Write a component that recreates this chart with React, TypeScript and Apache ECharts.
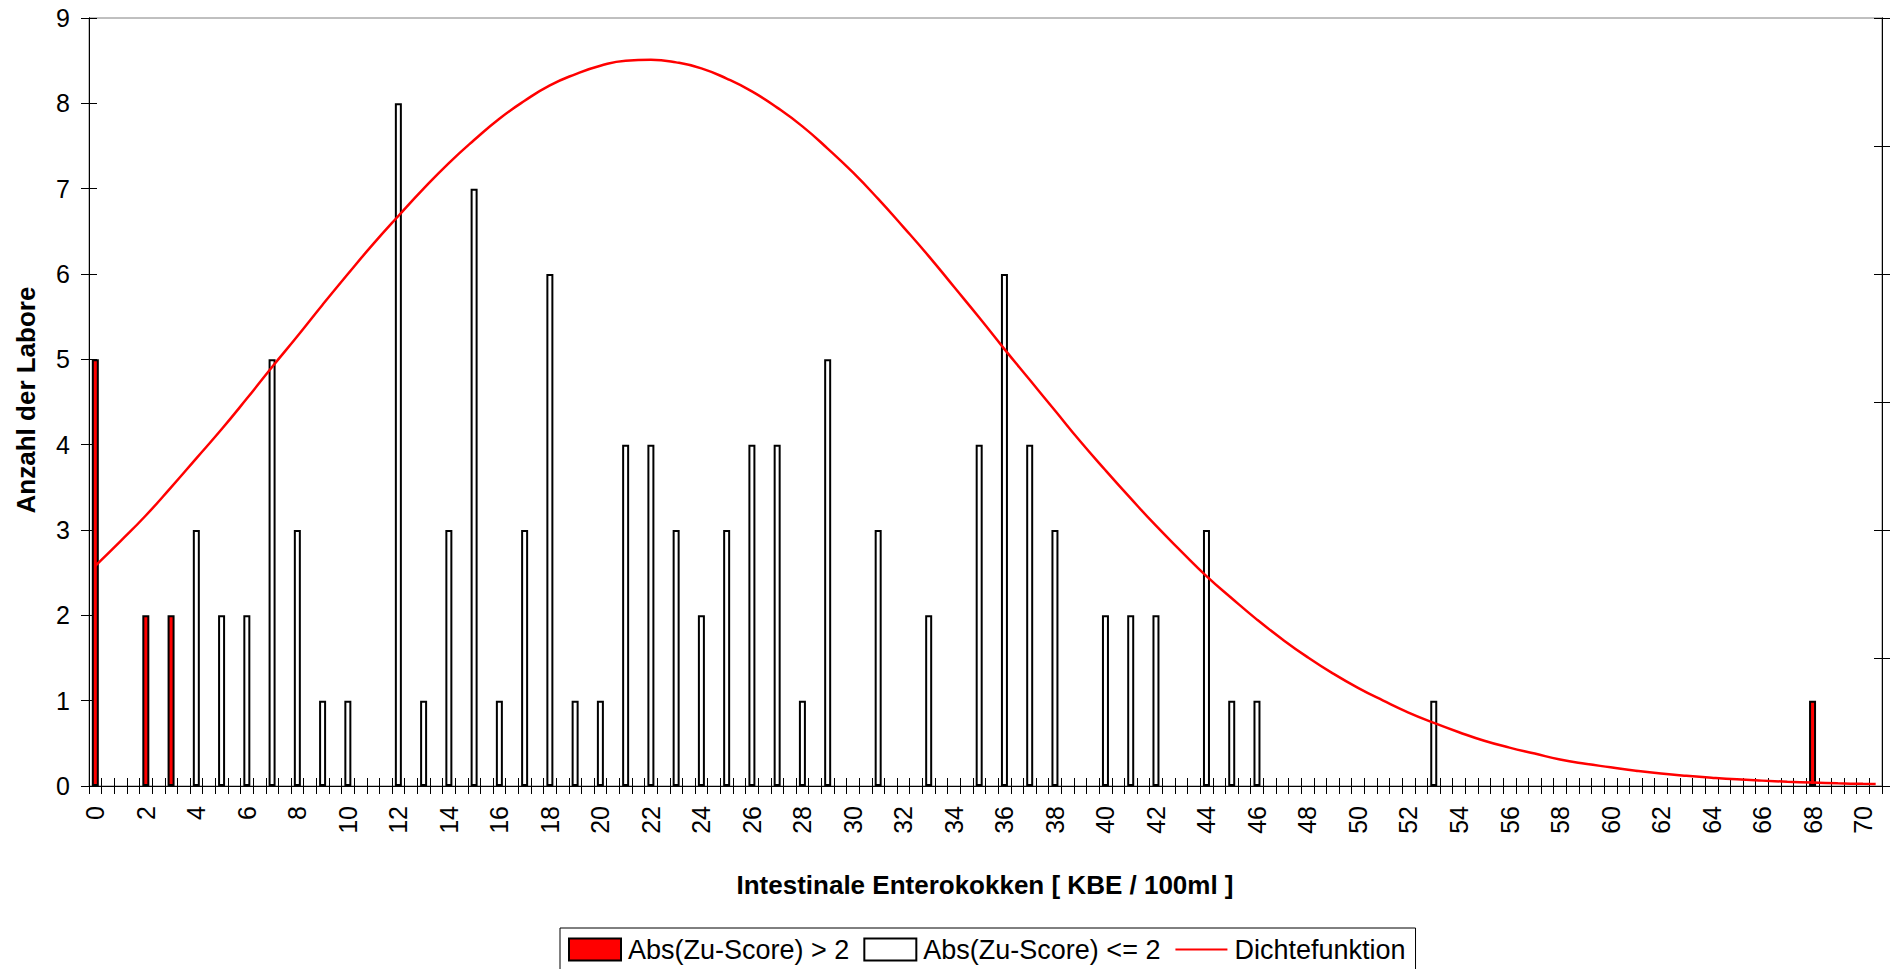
import React, { useEffect, useRef } from "react";
import * as echarts from "echarts";

// x axis categories: half-unit slots 0, 0.5, 1, ... 70.5 (labels every 2 units)
const xCategories: string[] = [];
for (let i = 0; i < 142; i++) xCategories.push(String(i / 2));

// Abs(Zu-Score) > 2
const redX = [0, 2, 3, 68];
const redCount = [5, 2, 2, 1];

// Abs(Zu-Score) <= 2
const whiteX = [4, 5, 6, 7, 8, 9, 10, 12, 13, 14, 15, 16, 17, 18, 19, 20, 21, 22, 23, 24, 25, 26, 27, 28, 29, 31, 33, 35, 36, 37, 38, 40, 41, 42, 44, 45, 46, 53];
const whiteCount = [3, 2, 2, 5, 3, 1, 1, 8, 1, 3, 7, 1, 3, 6, 1, 1, 4, 4, 3, 2, 3, 4, 4, 1, 5, 3, 2, 4, 6, 4, 3, 2, 2, 2, 3, 1, 1, 1];

// Dichtefunktion (read in left-axis units)
const densityX = [0, 1, 2, 3, 4, 5, 6, 7, 8, 9, 10, 11, 12, 13, 14, 15, 16, 17, 18, 19, 20, 21, 22, 23, 24, 25, 26, 27, 28, 29, 30, 31, 32, 33, 34, 35, 36, 37, 38, 39, 40, 41, 42, 43, 44, 45, 46, 47, 48, 49, 50, 51, 52, 53, 54, 55, 56, 57, 58, 59, 60, 61, 62, 63, 64, 65, 66, 67, 68, 69, 70, 70.5];
const densityY = [2.58, 2.87, 3.17, 3.5, 3.84, 4.18, 4.54, 4.91, 5.27, 5.64, 6.0, 6.35, 6.68, 7.0, 7.3, 7.57, 7.82, 8.03, 8.21, 8.34, 8.44, 8.5, 8.51, 8.48, 8.41, 8.29, 8.14, 7.95, 7.73, 7.47, 7.19, 6.88, 6.55, 6.21, 5.85, 5.49, 5.12, 4.76, 4.4, 4.04, 3.7, 3.37, 3.05, 2.75, 2.46, 2.2, 1.95, 1.72, 1.51, 1.32, 1.15, 1.0, 0.86, 0.74, 0.63, 0.53, 0.45, 0.38, 0.31, 0.26, 0.22, 0.18, 0.146, 0.119, 0.097, 0.078, 0.063, 0.05, 0.04, 0.031, 0.025, 0.022];

const yTicksLeft = { min: 0, max: 9, interval: 1 };
const yTicksRight = { min: 0, max: 6, interval: 1 };

const FONT = "'Liberation Sans', Arial, sans-serif";

export default function App() {
  const ref = useRef<HTMLDivElement>(null);
  useEffect(() => {
    if (!ref.current) return;
    const chart = echarts.init(ref.current, null, { renderer: "svg" });
    const axisLine = { show: true, lineStyle: { color: "#000", width: 1 } };
    const tick = (inside: boolean) => ({ show: true, inside, length: 8, lineStyle: { color: "#000", width: 1 } });
    const baseX = (inside: boolean, labels: boolean) => ({
      type: "category",
      data: xCategories,
      position: "bottom",
      boundaryGap: true,
      axisLine,
      axisTick: { ...tick(inside), interval: 0, alignWithLabel: false },
      axisLabel: labels
        ? { show: true, interval: 3, rotate: 90, fontSize: 25, color: "#000", fontFamily: FONT, margin: 20 }
        : { show: false },
      splitLine: { show: false },
    });
    const baseY = (pos: string, inside: boolean, labels: boolean, sc: any) => ({
      type: "value",
      position: pos,
      ...sc,
      axisLine,
      axisTick: tick(inside),
      axisLabel: labels ? { show: true, fontSize: 25, color: "#000", fontFamily: FONT, margin: 19 } : { show: false },
      splitLine: { show: false },
    });
    chart.setOption({
      animation: false,
      backgroundColor: "#fff",
      textStyle: { fontFamily: FONT },
      grid: { left: 89, right: 14, top: 18, bottom: 183, show: true, borderColor: "#808080", borderWidth: 1, containLabel: false },
      xAxis: [baseX(false, true), baseX(true, false)],
      yAxis: [
        baseY("left", false, true, yTicksLeft),
        baseY("left", true, false, yTicksLeft),
        baseY("right", false, false, yTicksRight),
        baseY("right", true, false, yTicksRight),
      ],
      legend: {
        left: 560,
        top: 928,
        orient: "horizontal",
        itemWidth: 52,
        itemHeight: 22,
        itemGap: 14,
        padding: [8, 10, 8, 8],
        borderColor: "#000",
        borderWidth: 1,
        backgroundColor: "#fff",
        textStyle: { fontSize: 27, color: "#000", fontFamily: FONT, padding: [0, 0, 0, 2] },
        data: [
          { name: "Abs(Zu-Score) > 2", icon: "rect" },
          { name: "Abs(Zu-Score) <= 2", icon: "rect" },
          { name: "Dichtefunktion", itemStyle: { opacity: 0 } },
        ],
      },
      graphic: [
        {
          type: "text",
          x: 985,
          y: 885,
          style: { text: "Intestinale Enterokokken [ KBE / 100ml ]", font: `bold 26px ${FONT}`, fill: "#000", textAlign: "center", textVerticalAlign: "middle" },
        },
        {
          type: "text",
          x: 26,
          y: 400,
          rotation: Math.PI / 2,
          style: { text: "Anzahl der Labore", font: `bold 26px ${FONT}`, fill: "#000", textAlign: "center", textVerticalAlign: "middle" },
        },
      ],
      series: [
        {
          name: "Abs(Zu-Score) > 2",
          type: "bar",
          xAxisIndex: 0,
          yAxisIndex: 0,
          barWidth: 7,
          barGap: "-100%",
          itemStyle: { color: "#ff0000", borderColor: "#000", borderWidth: 2 },
          data: redX.map((x, i) => [x * 2, redCount[i]]),
          z: 2,
        },
        {
          name: "Abs(Zu-Score) <= 2",
          type: "bar",
          xAxisIndex: 0,
          yAxisIndex: 0,
          barWidth: 7,
          barGap: "-100%",
          itemStyle: { color: "#ffffff", borderColor: "#000", borderWidth: 2 },
          data: whiteX.map((x, i) => [x * 2, whiteCount[i]]),
          z: 2,
        },
        {
          name: "Dichtefunktion",
          type: "line",
          xAxisIndex: 0,
          yAxisIndex: 0,
          smooth: true,
          symbol: "none",
          lineStyle: { color: "#ff0000", width: 2.5 },
          itemStyle: { color: "#ff0000" },
          data: densityX.map((x, i) => [x * 2, densityY[i]]),
          z: 5,
        },
      ],
    });
    return () => chart.dispose();
  }, []);
  return <div ref={ref} style={{ position: "absolute", left: 0, top: 0, width: 1896, height: 969 }} />;
}
